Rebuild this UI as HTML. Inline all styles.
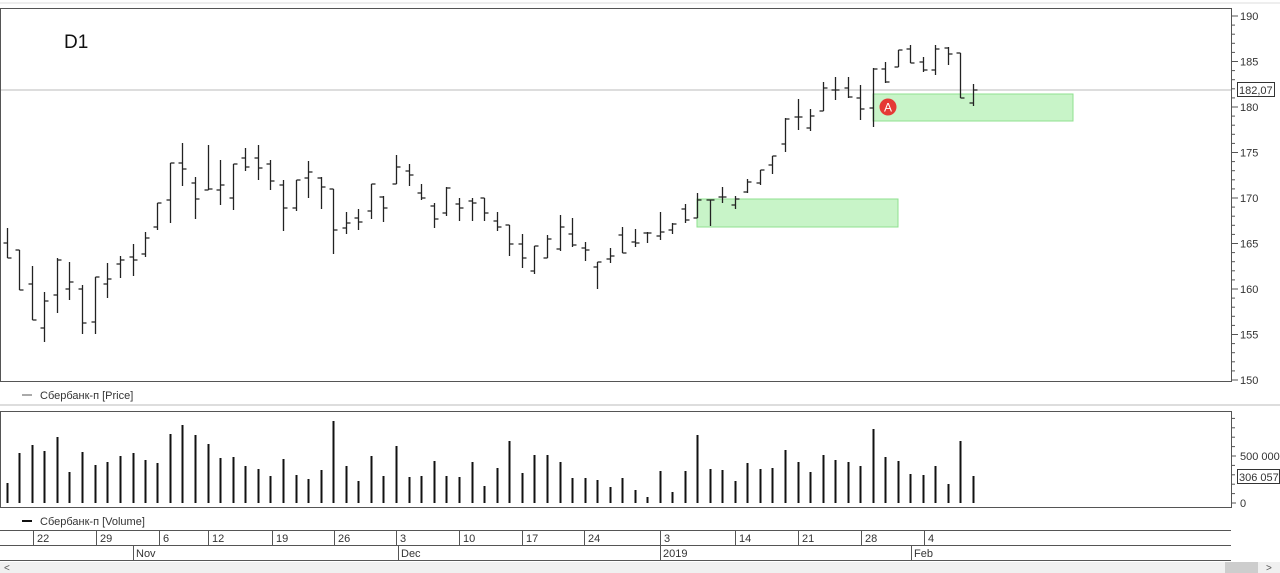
<!DOCTYPE html>
<html><head><meta charset="utf-8"><style>
body{margin:0;background:#fff;width:1280px;height:573px;overflow:hidden;font-family:"Liberation Sans","DejaVu Sans",sans-serif}
svg{display:block}
</style></head><body>
<svg id="s" width="1280" height="573" xmlns="http://www.w3.org/2000/svg" font-family="Liberation Sans, DejaVu Sans, sans-serif">
<rect x="0" y="0" width="1280" height="573" fill="#fff"/>
<line x1="0" y1="3" x2="1280" y2="3" stroke="#ddd"/>
<rect x="0.5" y="8.5" width="1231" height="373" fill="#fff" stroke="#555"/>
<line x1="1" y1="90" x2="1231" y2="90" stroke="#bbb"/>
<rect x="697" y="199" width="201" height="28" fill="#b6f0b6" fill-opacity="0.75" stroke="#8fe08f"/>
<rect x="873" y="94" width="200" height="27" fill="#b6f0b6" fill-opacity="0.75" stroke="#8fe08f"/>
<text x="64" y="48" font-size="19" fill="#111">D1</text>
<g id="bars" stroke="#222" stroke-width="1.3" fill="none"></g>
<circle cx="888" cy="107" r="8.5" fill="#e53935"/>
<text x="888" y="111.5" font-size="12" fill="#fff" text-anchor="middle">A</text>
<g id="yax" font-size="11" fill="#333"></g>
<rect x="1237.5" y="82.5" width="37" height="14" fill="#fff" stroke="#333"/>
<text x="1239" y="94" font-size="11" fill="#333">182,07</text>
<line x1="22" y1="395" x2="32" y2="395" stroke="#555"/>
<text x="40" y="399" font-size="11" fill="#333">Сбербанк-п [Price]</text>
<line x1="0" y1="405" x2="1280" y2="405" stroke="#bbb"/>
<rect x="0.5" y="411.5" width="1231" height="96" fill="#fff" stroke="#555"/>
<g id="vol" stroke="#111" stroke-width="2"></g>
<line x1="1231" y1="456" x2="1236" y2="456" stroke="#555"/>
<text x="1240" y="460" font-size="11" fill="#333">500 000</text>
<line x1="1231" y1="503" x2="1236" y2="503" stroke="#555"/>
<text x="1240" y="507" font-size="11" fill="#333">0</text>
<rect x="1237.5" y="469.5" width="42" height="14" fill="#fff" stroke="#333"/>
<text x="1239" y="481" font-size="11" fill="#333">306 057</text>
<line x1="22" y1="521" x2="32" y2="521" stroke="#111" stroke-width="2"/>
<text x="40" y="525" font-size="11" fill="#333">Сбербанк-п [Volume]</text>
<line x1="0" y1="530.5" x2="1231" y2="530.5" stroke="#555"/>
<line x1="0" y1="545.5" x2="1231" y2="545.5" stroke="#555"/>
<line x1="0" y1="560.5" x2="1231" y2="560.5" stroke="#555"/>
<g id="dax" font-size="11" fill="#333"></g>
<rect x="0" y="562" width="1280" height="11" fill="#f0f0f0"/>
<rect x="1225" y="562" width="33" height="11" fill="#cdcdcd"/>
<text x="4" y="571" font-size="10" fill="#555">&lt;</text>
<text x="1266" y="571" font-size="10" fill="#555">&gt;</text>
</svg>
<script>
var ns="http://www.w3.org/2000/svg";
function el(p,t,a,txt){var e=document.createElementNS(ns,t);for(var k in a)e.setAttribute(k,a[k]);if(txt)e.textContent=txt;p.appendChild(e);}
var B=[[7,228,258,243,258],[19,250,290,250,290],[32,266,320,284,320],[44,292,342,328,301],[57,258,313,295,260],[69,262,300,289,282],[82,285,334,289,323],[95,277,334,322,277],[107,263,298,284,279],[120,256,278,264,260],[133,244,276,257,260],[145,232,257,254,238],[157,203,230,227,203],[170,163,223,200,163],[182,143,186,163,169],[195,177,219,183,199],[208,145,190,190,189],[220,160,205,190,185],[233,164,210,198,164],[245,148,171,158,167],[258,145,180,158,168],[270,160,190,164,181],[283,180,231,185,208],[296,180,211,208,180],[308,161,198,178,172],[321,177,209,178,187],[333,189,254,189,230],[346,212,234,228,223],[358,209,230,218,222],[371,184,219,211,184],[383,196,222,197,208],[396,155,184,184,167],[409,164,186,171,175],[421,184,200,193,198],[434,203,228,206,219],[446,187,216,213,188],[459,198,221,204,208],[472,198,221,201,203],[484,198,221,198,213],[497,212,231,221,227],[509,225,256,225,244],[522,234,268,244,258],[534,246,274,271,246],[547,235,258,258,239],[560,215,251,249,227],[572,218,247,234,245],[585,242,261,248,250],[597,262,289,267,262],[610,248,263,259,256],[622,227,253,235,253],[635,229,247,242,243],[647,232,243,233,233],[660,212,240,236,232],[672,223,234,230,224],[685,204,223,209,220],[697,193,218,218,200],[710,200,226,200,200],[722,187,203,197,197],[735,196,209,205,199],[747,179,193,192,182],[760,170,185,183,170],[772,156,174,165,156],[785,118,152,144,119],[798,99,130,117,117],[810,109,131,128,116],[823,82,111,111,88],[835,77,100,90,90],[848,77,98,88,97],[860,85,120,98,109],[873,68,127,108,69],[885,62,83,69,82],[898,50,67,67,50],[910,45,63,49,63],[923,57,72,62,70],[935,45,75,70,49],[948,47,65,48,54],[960,53,98,53,98],[973,84,106,103,90]];
var V=[483,453,445,451,437,472,452,465,462,456,453,460,463,434,425,435,444,458,457,466,469,476,459,475,479,470,421,466,481,456,476,446,477,476,461,476,477,462,486,468,441,473,455,455,462,478,478,480,487,478,490,497,471,492,471,435,469,470,481,463,469,468,450,462,472,455,460,462,466,429,457,461,474,475,466,484,441,476];
var g=document.getElementById('bars'),d="";
B.forEach(function(b){var x=b[0]+0.5;d+="M"+x+" "+b[1]+"V"+b[2]+"M"+(x-4)+" "+b[3]+"H"+x+"M"+x+" "+b[4]+"H"+(x+4);});
el(g,'path',{d:d});
var vg=document.getElementById('vol');
V.forEach(function(v,i){var x=B[i][0]+0.5;el(vg,'line',{x1:x,y1:v,x2:x,y2:503});});
var ya=document.getElementById('yax');
for(var p=150;p<=190;p++){var y=16+(190-p)*9.1;var big=p%5==0;el(ya,'line',{x1:1231,y1:y,x2:big?1238:1235,y2:y,stroke:'#555'});if(big)el(ya,'text',{x:1240,y:y+4},String(p));}
for(var i=0;i<10;i++){var y=503-i*9.4;el(ya,'line',{x1:1231,y1:y,x2:1235,y2:y,stroke:'#555'});}
var da=document.getElementById('dax');
[[33,"22"],[96,"29"],[159,"6"],[208,"12"],[272,"19"],[334,"26"],[396,"3"],[459,"10"],[522,"17"],[584,"24"],[660,"3"],[735,"14"],[798,"21"],[861,"28"],[924,"4"]].forEach(function(t){el(da,'line',{x1:t[0]+.5,y1:531,x2:t[0]+.5,y2:545,stroke:'#555'});el(da,'text',{x:t[0]+4,y:542},t[1]);});
[[133,"Nov"],[398,"Dec"],[660,"2019"],[911,"Feb"]].forEach(function(t){el(da,'line',{x1:t[0]+.5,y1:546,x2:t[0]+.5,y2:560,stroke:'#555'});el(da,'text',{x:t[0]+3,y:557},t[1]);});
</script>
</body></html>
